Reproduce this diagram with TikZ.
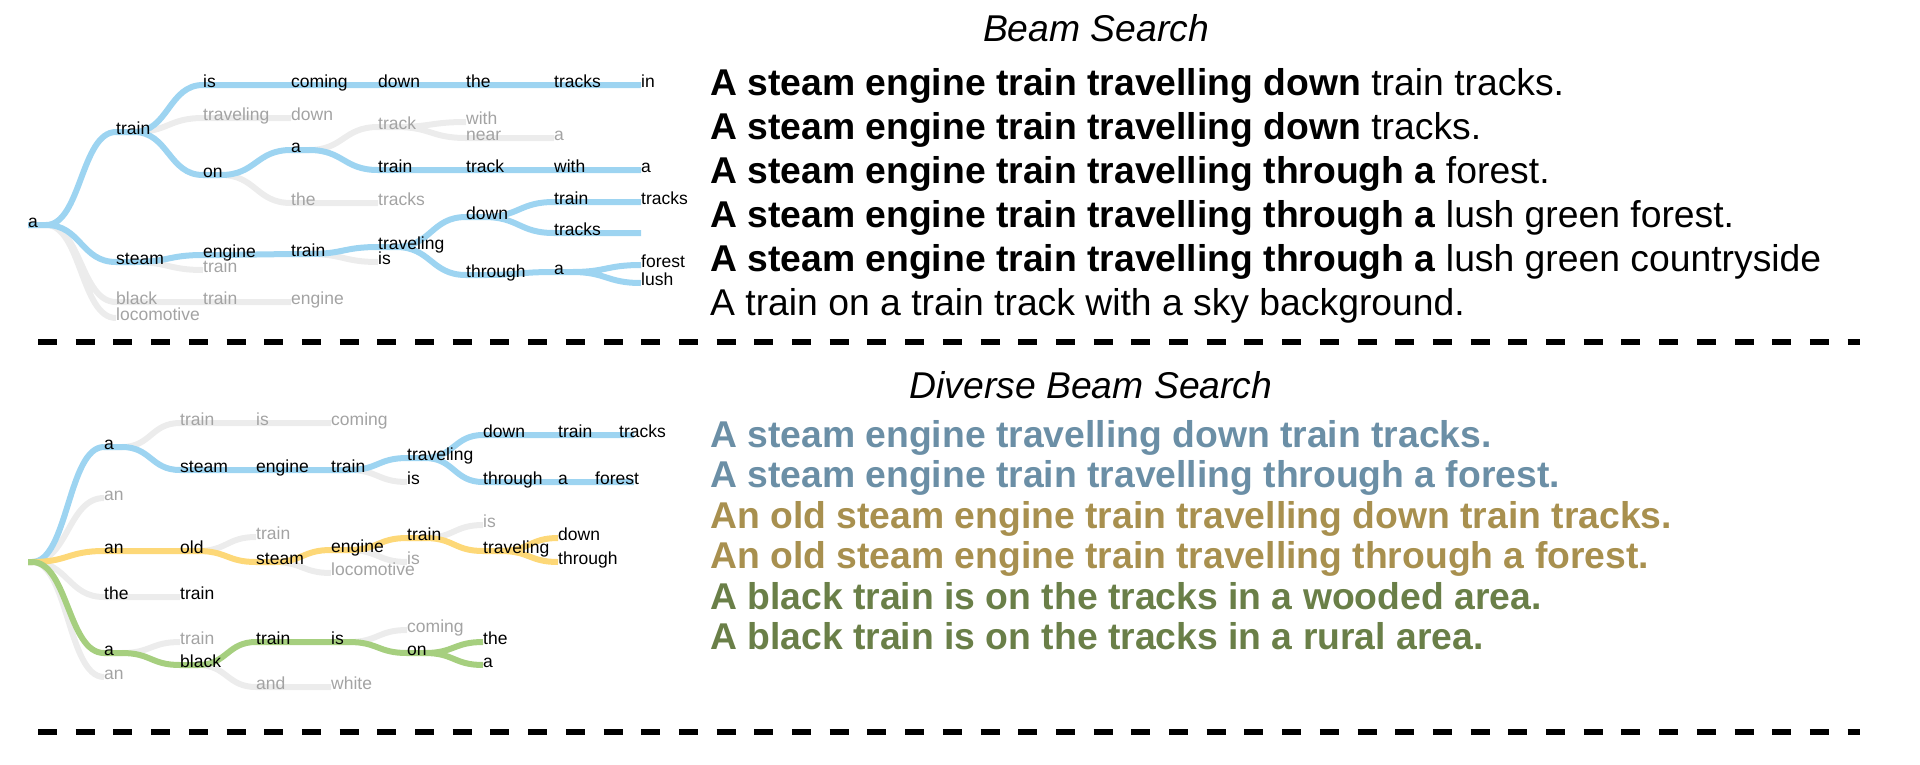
\documentclass[tikz,border=0pt]{standalone}
\usepackage{fontspec}
\setmainfont{Liberation Sans}
\usetikzlibrary{calc, backgrounds}
\definecolor{beamblue}{HTML}{9DD4F1}
\definecolor{beamyellow}{HTML}{FDD878}
\definecolor{beamgreen}{HTML}{A6CF7F}
\definecolor{pathgray}{HTML}{ECECEC}
\definecolor{wordgray}{HTML}{A3A3A3}
\definecolor{capblue}{HTML}{6B8FA6}
\definecolor{capgold}{HTML}{A8904F}
\definecolor{capgreen}{HTML}{6A7F48}
\newcommand{\wordfont}{\fontsize{17.5}{20}\selectfont}
\newcommand{\capfont}{\fontsize{37.3}{44}\selectfont}
\tikzset{
  stub/.store in=\stublen, stub=18pt,
  word/.style={font=\wordfont, anchor=base west, inner sep=0pt, yshift=-2pt},
  gword/.style={word, wordgray},
  caption/.style={font=\capfont, anchor=base west, inner sep=0pt},
  heading/.style={font=\capfont\itshape, anchor=base, inner sep=0pt},
  branch/.style={line width=6pt, to path={let \p1=([yshift=2pt]\tikztostart.base west),
      \p2=([yshift=2pt]\tikztotarget.base west), \n1={(\x1+\stublen+\x2)/2} in
      (\p1) -- (\x1+\stublen,\y1) .. controls (\n1,\y1) and (\n1,\y2) .. (\p2)}},
  grayline/.style={branch, pathgray},
  blueline/.style={branch, beamblue},
  yellowline/.style={branch, beamyellow},
  greenline/.style={branch, beamgreen},
}
\begin{document}
\begin{tikzpicture}[x=1pt, y=-1pt]
  \useasboundingbox (0,0) rectangle (1920,764);

  % beam search tree
  \node[word] (bRoot) at (28,225) {a};
  \node[word] (bTrain) at (116,132) {train};
  \node[word] (bSteam) at (116,262) {steam};
  \node[gword] (bBlack) at (116,302) {black};
  \node[gword] (bLoco) at (116,318) {locomotive};
  \node[word] (bIs) at (203,85) {is};
  \node[gword] (bTrav) at (203,118) {traveling};
  \node[word] (bOn) at (203,175) {on};
  \node[word] (bEngine) at (203,255) {engine};
  \node[gword] (bTrainB) at (203,270) {train};
  \node[gword] (bTrainC) at (203,302) {train};
  \node[word] (bComing) at (291,85) {coming};
  \node[gword] (bDownA) at (291,118) {down};
  \node[word] (bA) at (291,150) {a};
  \node[gword] (bThe) at (291,203) {the};
  \node[word] (bTrainD) at (291,254) {train};
  \node[gword] (bEngineB) at (291,302) {engine};
  \node[word] (bDown) at (378,85) {down};
  \node[gword] (bTrack) at (378,127) {track};
  \node[word] (bTrainE) at (378,170) {train};
  \node[gword] (bTracksA) at (378,203) {tracks};
  \node[word] (bTraveling) at (378,247) {traveling};
  \node[word] (bIsB) at (378,262) {is};
  \node[word] (bTheB) at (466,85) {the};
  \node[gword] (bWith) at (466,122) {with};
  \node[gword] (bNear) at (466,138) {near};
  \node[word] (bTrackB) at (466,170) {track};
  \node[word] (bDownB) at (466,217) {down};
  \node[word] (bThrough) at (466,275) {through};
  \node[word] (bTracks) at (554,85) {tracks};
  \node[gword] (bAB) at (554,138) {a};
  \node[word] (bWithB) at (554,170) {with};
  \node[word] (bTrainF) at (554,202) {train};
  \node[word] (bTracksB) at (554,233) {tracks};
  \node[word] (bAC) at (554,272) {a};
  \node[word] (bIn) at (641,85) {in};
  \node[word] (bAD) at (641,170) {a};
  \node[word] (bTracksC) at (641,202) {tracks};
  \node[word] (bEnd) at (641,233) {};
  \node[word] (bForest) at (641,265) {forest};
  \node[word] (bLush) at (641,283) {lush};

  % diverse beam search tree
  \node[word] (dRoot) at (28,562) {};
  \node[word] (dA) at (104,447) {a};
  \node[gword] (dAn) at (104,498) {an};
  \node[word] (dAnB) at (104,551) {an};
  \node[word] (dThe) at (104,597) {the};
  \node[word] (dAC) at (104,653) {a};
  \node[gword] (dAnC) at (104,677) {an};
  \node[gword] (dTrain) at (180,423) {train};
  \node[word] (dSteam) at (180,470) {steam};
  \node[word] (dOld) at (180,551) {old};
  \node[word] (dTrainB) at (180,597) {train};
  \node[gword] (dTrainC) at (180,642) {train};
  \node[word] (dBlack) at (180,665) {black};
  \node[gword] (dIs) at (256,423) {is};
  \node[word] (dEngine) at (256,470) {engine};
  \node[gword] (dTrainD) at (256,537) {train};
  \node[word] (dSteamB) at (256,562) {steam};
  \node[word] (dTrainE) at (256,642) {train};
  \node[gword] (dAnd) at (256,687) {and};
  \node[gword] (dComing) at (331,423) {coming};
  \node[word] (dTrainF) at (331,470) {train};
  \node[word] (dEngineB) at (331,550) {engine};
  \node[gword] (dLoco) at (331,573) {locomotive};
  \node[word] (dIsB) at (331,642) {is};
  \node[gword] (dWhite) at (331,687) {white};
  \node[word] (dTraveling) at (407,458) {traveling};
  \node[word] (dIsC) at (407,482) {is};
  \node[word] (dTrainG) at (407,538) {train};
  \node[gword] (dIsD) at (407,562) {is};
  \node[gword] (dComingB) at (407,630) {coming};
  \node[word] (dOn) at (407,653) {on};
  \node[word] (dDown) at (483,435) {down};
  \node[word] (dThrough) at (483,482) {through};
  \node[gword] (dIsE) at (483,525) {is};
  \node[word] (dTravelingB) at (483,551) {traveling};
  \node[word] (dTheB) at (483,642) {the};
  \node[word] (dAD) at (483,665) {a};
  \node[word] (dTrainH) at (558,435) {train};
  \node[word] (dAE) at (558,482) {a};
  \node[word] (dDownB) at (558,538) {down};
  \node[word] (dThroughB) at (558,562) {through};
  \node[word] (dTracksEnd) at (634,435) {};
  \node[word] (dForestEnd) at (634,482) {};
  \node[word] (dTracks) at (619,435) {tracks};
  \node[word] (dForest) at (595,482) {forest};

  \begin{scope}[on background layer]
    \draw[grayline] (bRoot) to (bBlack) (bRoot) to (bLoco) (bTrain) to (bTrav)
      (bTrav) to (bDownA) (bOn) to (bThe) (bThe) to (bTracksA) (bA) to (bTrack)
      (bTrack) to (bWith) (bTrack) to (bNear) (bNear) to (bAB) (bSteam) to (bTrainB)
      (bTrainD) to (bIsB) (bBlack) to (bTrainC) (bTrainC) to (bEngineB);
    \draw[blueline] (bRoot) to (bTrain) (bRoot) to (bSteam) (bTrain) to (bIs)
      (bIs) to (bComing) (bComing) to (bDown) (bDown) to (bTheB) (bTheB) to (bTracks)
      (bTracks) to (bIn) (bTrain) to (bOn) (bOn) to (bA) (bA) to (bTrainE)
      (bTrainE) to (bTrackB) (bTrackB) to (bWithB) (bWithB) to (bAD)
      (bSteam) to (bEngine) (bEngine) to (bTrainD) (bTrainD) to (bTraveling)
      (bTraveling) to (bDownB) (bTraveling) to (bThrough) (bDownB) to (bTrainF)
      (bTrainF) to (bTracksC) (bDownB) to (bTracksB) (bTracksB) to (bEnd)
      (bThrough) to (bAC) (bAC) to (bForest) (bAC) to (bLush);
    \draw[grayline, stub=4pt] (dRoot) to (dAn) (dRoot) to (dThe) (dRoot) to (dAnC);
    \draw[grayline] (dA) to (dTrain) (dTrain) to (dIs) (dIs) to (dComing)
      (dTrainF) to (dIsC) (dOld) to (dTrainD) (dSteamB) to (dLoco) (dEngineB) to (dIsD)
      (dTrainG) to (dIsE) (dThe) to (dTrainB) (dAC) to (dTrainC) (dIsB) to (dComingB)
      (dBlack) to (dAnd) (dAnd) to (dWhite);
    \draw[blueline, stub=4pt] (dRoot) to (dA);
    \draw[blueline] (dA) to (dSteam) (dSteam) to (dEngine) (dEngine) to (dTrainF)
      (dTrainF) to (dTraveling) (dTraveling) to (dDown) (dDown) to (dTrainH)
      (dTrainH) to (dTracksEnd) (dTraveling) to (dThrough) (dThrough) to (dAE)
      (dAE) to (dForestEnd);
    \draw[yellowline, stub=4pt] (dRoot) to (dAnB);
    \draw[yellowline] (dAnB) to (dOld) (dOld) to (dSteamB) (dSteamB) to (dEngineB)
      (dEngineB) to (dTrainG) (dTrainG) to (dTravelingB) (dTravelingB) to (dDownB)
      (dTravelingB) to (dThroughB);
    \draw[greenline, stub=4pt] (dRoot) to (dAC);
    \draw[greenline] (dAC) to (dBlack) (dBlack) to (dTrainE) (dTrainE) to (dIsB)
      (dIsB) to (dOn) (dOn) to (dTheB) (dOn) to (dAD);
  \end{scope}

  % captions
  \node[heading] (beamTitle) at (1096,41) {Beam Search};
  \node[caption] (s1) at (710,95) {{\bfseries A steam engine train travelling down} train tracks.};
  \node[caption] (s2) at (710,139) {{\bfseries A steam engine train travelling down} tracks.};
  \node[caption] (s3) at (710,183) {{\bfseries A steam engine train travelling through a} forest.};
  \node[caption] (s4) at (710,227) {{\bfseries A steam engine train travelling through a} lush green forest.};
  \node[caption] (s5) at (710,271) {{\bfseries A steam engine train travelling through a} lush green countryside};
  \node[caption] (s6) at (710,315) {A train on a train track with a sky background.};

  \node[heading] (diverseTitle) at (1091,398) {Diverse Beam Search};
  \node[caption, capblue, font=\capfont\bfseries] (t1) at (710,447) {A steam engine travelling down train tracks.};
  \node[caption, capblue, font=\capfont\bfseries] (t2) at (710,487) {A steam engine train travelling through a forest.};
  \node[caption, capgold, font=\capfont\bfseries] (t3) at (710,528) {An old steam engine train travelling down train tracks.};
  \node[caption, capgold, font=\capfont\bfseries] (t4) at (710,568) {An old steam engine train travelling through a forest.};
  \node[caption, capgreen, font=\capfont\bfseries] (t5) at (710,609) {A black train is on the tracks in a wooded area.};
  \node[caption, capgreen, font=\capfont\bfseries] (t6) at (710,649) {A black train is on the tracks in a rural area.};

  % separators
  \draw[line width=6pt, dash pattern=on 19pt off 18.7pt] (38,342) -- (1860,342);
  \draw[line width=6pt, dash pattern=on 19pt off 18.7pt] (38,732) -- (1860,732);
\end{tikzpicture}
\end{document}
